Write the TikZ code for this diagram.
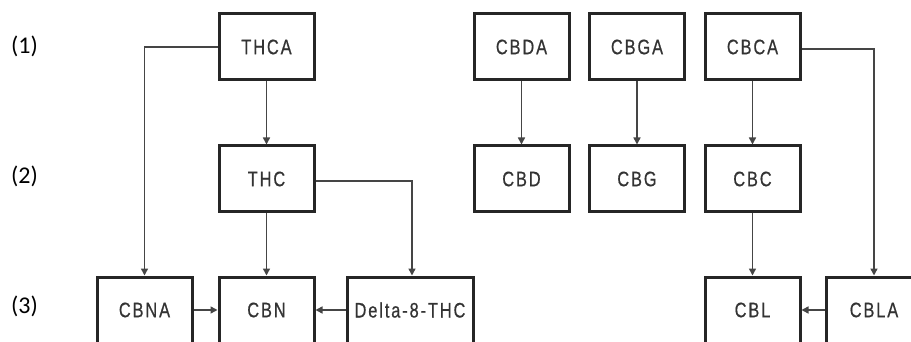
\documentclass[tikz,border=0pt]{standalone}
\usepackage{fontspec}
\usetikzlibrary{arrows.meta}
\newfontfamily\boxfont[FakeStretch=0.78,LetterSpace=9,FakeBold=0.6]{Liberation Sans}
\newfontfamily\lblfont{Carlito}
\definecolor{boxline}{HTML}{262626}
\definecolor{conline}{HTML}{454545}
\definecolor{boxtext}{HTML}{333333}
\tikzset{
  chem/.style={draw=boxline, line width=3pt, minimum width=95pt, minimum height=66pt,
    inner sep=0pt, font=\boxfont\fontsize{21}{24}\selectfont, text=boxtext},
  widechem/.style={chem, minimum width=126pt},
  conn/.style={draw=conline, line width=1.5pt, -{Triangle[length=7pt,width=7pt]}},
  lvl/.style={font=\lblfont\fontsize{24}{28}\selectfont, text=black, anchor=center}
}
\begin{document}
\begin{tikzpicture}[x=1pt,y=-1pt]
\useasboundingbox (0,0) rectangle (911,342);
% level labels
\node[lvl] (l1) at (24.5,46) {(1)};
\node[lvl] (l2) at (24.5,176) {(2)};
\node[lvl] (l3) at (24.5,306) {(3)};
% boxes
\node[chem] (thca) at (266.5,47) {THCA};
\node[chem] (thc) at (266.5,179) {THC};
\node[chem] (cbna) at (144.5,310) {CBNA};
\node[chem] (cbn) at (266.5,310) {CBN};
\node[widechem] (d8) at (410,310) {Delta-8-THC};
\node[chem] (cbda) at (521.5,47) {CBDA};
\node[chem] (cbga) at (637,47) {CBGA};
\node[chem] (cbca) at (752.5,47) {CBCA};
\node[chem] (cbd) at (521.5,179) {CBD};
\node[chem] (cbg) at (637,179) {CBG};
\node[chem] (cbc) at (752.5,179) {CBC};
\node[chem] (cbl) at (752.5,310) {CBL};
\node[chem] (cbla) at (874,310) {CBLA};
% connectors
\draw[conn] (thca.west) -| (cbna.north);
\draw[conn] (thca) -- (thc);
\draw[conn] ([yshift=-2pt]thc.east) -| ([xshift=2pt]d8.north);
\draw[conn] (thc) -- (cbn);
\draw[conn] (cbna) -- (cbn);
\draw[conn] (d8) -- (cbn);
\draw[conn] (cbda) -- (cbd);
\draw[conn] (cbga) -- (cbg);
\draw[conn] (cbca) -- (cbc);
\draw[conn] (cbc) -- (cbl);
\draw[conn] ([yshift=-2pt]cbca.east) -| (cbla.north);
\draw[conn] (cbla) -- (cbl);
\end{tikzpicture}
\end{document}
